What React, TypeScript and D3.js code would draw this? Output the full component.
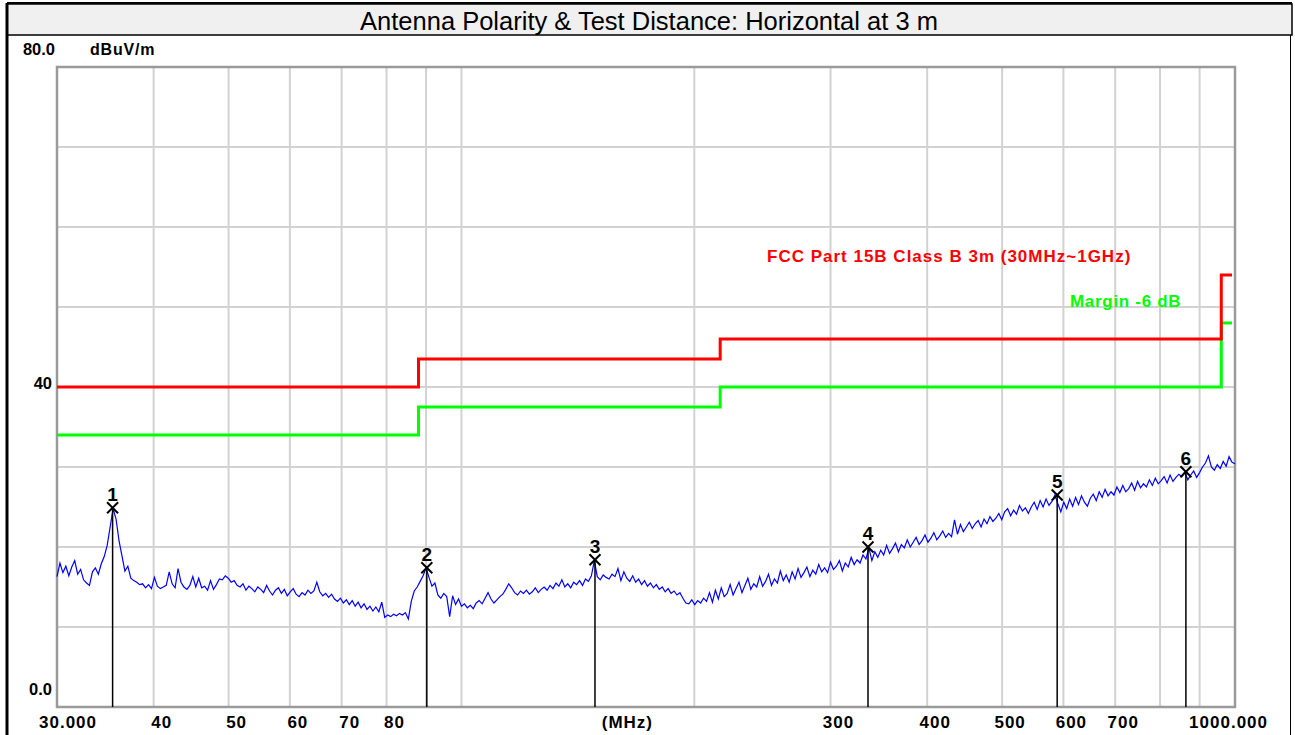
import React from 'react';
import * as d3 from 'd3';

const TITLE = 'Antenna Polarity & Test Distance: Horizontal at 3 m';
const UNIT = 'dBuV/m';
const X_UNIT = '(MHz)';
const LIMIT_NAME = 'FCC Part 15B Class B 3m (30MHz~1GHz)';
const MARGIN_NAME = 'Margin -6 dB';

const Y_GRID = [0, 10, 20, 30, 40, 50, 60, 70, 80];
const Y_LABELS = [
  { v: 80, t: '80.0' },
  { v: 40, t: '40' },
  { v: 0, t: '0.0' },
];
const X_GRID = [40, 50, 60, 70, 80, 90, 100, 200, 300, 400, 500, 600, 700, 800, 900];
const X_LABELS = [
  { f: 30, t: '30.000' },
  { f: 40, t: '40' },
  { f: 50, t: '50' },
  { f: 60, t: '60' },
  { f: 70, t: '70' },
  { f: 80, t: '80' },
  { f: 160, t: X_UNIT },
  { f: 300, t: '300' },
  { f: 400, t: '400' },
  { f: 500, t: '500' },
  { f: 600, t: '600' },
  { f: 700, t: '700' },
  { f: 1000, t: '1000.000' },
];

// limit line (step) : frequency breakpoints and level
const LIMIT_F = [30, 88, 88, 216, 216, 960, 960, 1000];
const LIMIT_DB = [40, 40, 43.5, 43.5, 46, 46, 54, 54];
const MARGIN_DB = [34, 34, 37.5, 37.5, 40, 40, 48, 48];

// markers
const MARK_NO = [1, 2, 3, 4, 5, 6];
const MARK_F = [35.4, 90.2, 148.8, 335.4, 589.0, 864.0];
const MARK_DB = [24.9, 17.4, 18.4, 20.0, 26.5, 29.4];

// sweep: 400 log spaced points from 30 to 1000 MHz
const SWEEP_START = 30;
const SWEEP_STOP = 1000;
const TRACE_DB = [
  16.3, 18.0, 16.8, 17.6, 16.4, 17.5, 18.3, 16.6, 17.2, 15.9,
  15.5, 15.2, 16.9, 17.4, 16.6, 17.9, 18.8, 20.2, 22.5, 24.8,
  23.5, 20.8, 18.9, 17.0, 17.6, 16.1, 15.8, 15.6, 15.3, 15.4,
  14.9, 15.3, 14.8, 16.2, 15.1, 14.8, 15.0, 15.2, 16.9, 15.4,
  14.9, 17.3, 15.6, 15.0, 14.7, 15.2, 16.3, 15.0, 16.1, 14.9,
  15.1, 14.6, 15.8, 14.7, 15.3, 16.0, 15.9, 16.4, 16.1, 15.6,
  15.8, 15.2, 15.0, 15.4, 14.6, 15.1, 14.8, 14.4, 15.0, 14.7,
  14.3, 15.2, 14.5, 14.0, 14.6, 14.9, 14.2, 14.7, 13.9, 14.4,
  14.8, 14.1, 13.8, 14.3, 14.0, 14.6, 14.2, 14.5, 15.6, 14.4,
  13.9, 14.2, 13.7, 14.1, 13.5, 13.2, 13.6, 13.0, 13.4, 12.8,
  13.3, 12.6, 13.1, 12.4, 12.9, 12.2, 12.6, 12.0, 12.5, 11.9,
  13.1, 11.2, 11.5, 11.3, 11.6, 11.4, 11.7, 11.5, 11.8, 11.0,
  13.2, 14.5, 15.0, 15.7, 16.4, 17.4, 16.2, 15.1, 15.5, 14.0,
  13.6, 14.2, 13.8, 11.3, 13.9, 12.8, 13.5, 12.6, 12.9, 12.4,
  12.7, 12.3, 13.0, 13.3, 12.9, 13.6, 14.3, 13.5, 13.0, 13.4,
  13.8, 14.1, 14.7, 15.4, 14.9, 14.3, 14.0, 14.5, 14.2, 14.6,
  14.1, 14.4, 14.9, 14.3, 14.7, 15.0, 14.6, 15.2, 14.8, 15.5,
  15.1, 15.9, 15.0, 15.4, 14.9, 15.6, 15.3, 15.8, 15.2, 16.0,
  15.7, 16.4, 18.3, 16.3, 15.9, 16.5, 16.2, 16.0, 16.6, 16.3,
  17.3, 15.8, 16.9, 16.1, 15.7, 16.4, 15.6, 16.0, 15.3, 15.8,
  15.1, 15.5, 14.9, 15.3, 14.7, 15.0, 14.4, 14.8, 14.2, 14.5,
  14.0, 14.3, 13.6, 13.0, 12.9, 13.4, 12.8, 13.3, 13.0, 13.6,
  13.2, 14.3, 13.1, 14.6, 13.5, 14.9, 13.8, 14.2, 15.3, 14.0,
  14.8, 15.6, 14.3, 15.2, 16.1, 14.7, 15.4, 15.0, 16.3, 15.1,
  15.7, 16.6, 15.2, 16.0, 15.5, 17.0, 15.8, 16.5, 15.6, 16.9,
  16.0, 17.3, 16.2, 16.8, 17.5, 16.3, 17.1, 16.6, 17.8, 16.9,
  17.4, 16.8, 18.1, 17.2, 17.6, 18.3, 17.0, 18.0, 17.5, 18.7,
  17.8, 18.4, 18.0, 19.0, 18.5, 19.9, 18.3, 19.4, 18.7, 19.6,
  19.0, 20.2, 19.2, 19.8, 20.5, 19.4, 20.3, 19.9, 20.9, 20.0,
  20.6, 21.2, 20.3, 20.8, 21.5, 20.6, 21.1, 21.8, 20.9, 21.4,
  22.0, 21.2, 21.7, 21.3, 23.4, 21.6, 22.8, 21.9, 22.5, 23.1,
  22.3, 22.9, 23.3, 22.5, 23.5, 22.9, 23.8, 23.2, 23.6, 24.2,
  23.4, 24.4, 24.8, 23.9, 24.6, 24.1, 25.2, 24.5, 24.9, 24.2,
  25.0, 25.6, 24.7, 25.8, 25.0, 26.0, 25.2, 25.7, 26.5, 25.4,
  24.4, 25.6, 24.8, 26.0, 25.1, 26.2, 25.3, 26.4, 25.6, 25.1,
  26.1, 26.6, 25.8, 26.9, 26.2, 27.2, 26.4, 26.9, 26.5, 27.5,
  26.8, 27.7, 26.9, 27.3, 28.0, 27.1, 28.2, 27.4, 27.9, 27.5,
  28.4, 27.7, 28.6, 27.9, 28.3, 28.8, 28.0, 29.0, 28.2, 28.7,
  29.1, 28.8, 29.4, 28.4, 29.0, 29.5, 28.7, 29.3, 30.0, 30.5,
  31.4, 30.0, 29.6, 30.3, 29.8, 30.7, 30.1, 31.3, 30.6, 30.4,
];

const W = 1295;
const H = 735;
const PL = 57, PR = 1235, PT = 67, PB = 707;
const BOLD = '"Liberation Sans", Arial, sans-serif';

export default function App() {
  const x = d3.scaleLog().domain([30, 1000]).range([PL, PR]);
  const y = d3.scaleLinear().domain([0, 80]).range([PB, PT]);

  const n = TRACE_DB.length;
  const sweepF = TRACE_DB.map((_, i) =>
    SWEEP_START * Math.pow(SWEEP_STOP / SWEEP_START, i / (n - 1))
  );
  const traceLine = d3
    .line<number>()
    .x((_, i) => x(sweepF[i]))
    .y((d) => y(d));

  const limEnd = x(1000) - 3;
  const stepLine = (levels: number[]) =>
    d3
      .line<number>()
      .x((_, i) => Math.min(x(LIMIT_F[i]), limEnd))
      .y((d) => y(d))(levels) as string;

  return (
    <svg width={W} height={H} style={{ position: 'absolute', left: 0, top: 0, display: 'block' }}>
      <rect x={0} y={0} width={W} height={H} fill="#fff" />
      {/* title bar */}
      <rect x={7} y={4} width={1285} height={31} fill="#f0f0f0" stroke="#000" strokeWidth={1.5} />
      <line x1={7} y1={3} x2={1292} y2={3} stroke="#000" strokeWidth={2} />
      <line x1={7} y1={3} x2={7} y2={H} stroke="#000" strokeWidth={3} />
      <line x1={1290.5} y1={35} x2={1290.5} y2={H} stroke="#000" strokeWidth={1} />
      <text x={649} y={30} textAnchor="middle" fontFamily={'"Liberation Sans", Arial, sans-serif'} fontSize={25.5}>
        {TITLE}
      </text>

      {/* grid */}
      {Y_GRID.map((v) => (
        <line key={'gy' + v} x1={PL} x2={PR} y1={y(v)} y2={y(v)} stroke="#d2d2d2" strokeWidth={2} />
      ))}
      {X_GRID.map((f) => (
        <line key={'gx' + f} x1={x(f)} x2={x(f)} y1={PT} y2={PB} stroke="#d2d2d2" strokeWidth={2} />
      ))}
      {/* frame */}
      <rect x={PL} y={PT} width={PR - PL} height={PB - PT} fill="none" stroke="#9a9a9a" strokeWidth={2.5} />

      {/* y labels */}
      {Y_LABELS.map((d) => (
        <text
          key={'yl' + d.v}
          x={d.v === 80 ? 55 : 52}
          y={d.v === 40 ? y(d.v) + 2 : y(d.v) - 12}
          textAnchor="end"
          fontFamily={BOLD}
          fontWeight="bold"
          fontSize={16.5}
        >
          {d.t}
        </text>
      ))}
      <text x={90} y={y(80) - 12} fontFamily={BOLD} fontWeight="bold" fontSize={16} letterSpacing={0.8}>
        {UNIT}
      </text>

      {/* x labels */}
      {X_LABELS.map((d, i) => {
        const first = i === 0;
        const last = i === X_LABELS.length - 1;
        return (
          <text
            key={'xl' + d.t}
            x={first ? x(d.f) - 18 : last ? x(d.f) + 33 : x(d.f) + 8}
            y={728}
            textAnchor={first ? 'start' : last ? 'end' : 'middle'}
            fontFamily={BOLD}
            fontWeight="bold"
            fontSize={17}
            letterSpacing={1}
          >
            {d.t}
          </text>
        );
      })}

      {/* limit lines */}
      <path d={stepLine(MARGIN_DB)} fill="none" stroke="#00ff00" strokeWidth={3} />
      <path d={stepLine(LIMIT_DB)} fill="none" stroke="#ff0000" strokeWidth={3} />
      <text x={767} y={262} fill="#ff0000" fontFamily={BOLD} fontWeight="bold" fontSize={17} letterSpacing={1}>
        {LIMIT_NAME}
      </text>
      <text x={1070} y={307} fill="#00ff00" fontFamily={BOLD} fontWeight="bold" fontSize={17} letterSpacing={0.7}>
        {MARGIN_NAME}
      </text>

      {/* trace */}
      <path d={traceLine(TRACE_DB) as string} fill="none" stroke="#0000ff" strokeWidth={1.2} />

      {/* markers */}
      {MARK_NO.map((m, i) => {
        const cx = x(MARK_F[i]);
        const cy = y(MARK_DB[i]);
        return (
          <g key={'m' + m}>
            <line x1={cx} x2={cx} y1={cy} y2={PB} stroke="#000" strokeWidth={1.5} />
            <line x1={cx - 5.5} x2={cx + 5.5} y1={cy - 5.5} y2={cy + 5.5} stroke="#000" strokeWidth={2} />
            <line x1={cx - 5.5} x2={cx + 5.5} y1={cy + 5.5} y2={cy - 5.5} stroke="#000" strokeWidth={2} />
            <text x={cx} y={cy - 7} textAnchor="middle" fontFamily={BOLD} fontWeight="bold" fontSize={19}>
              {m}
            </text>
          </g>
        );
      })}
    </svg>
  );
}
